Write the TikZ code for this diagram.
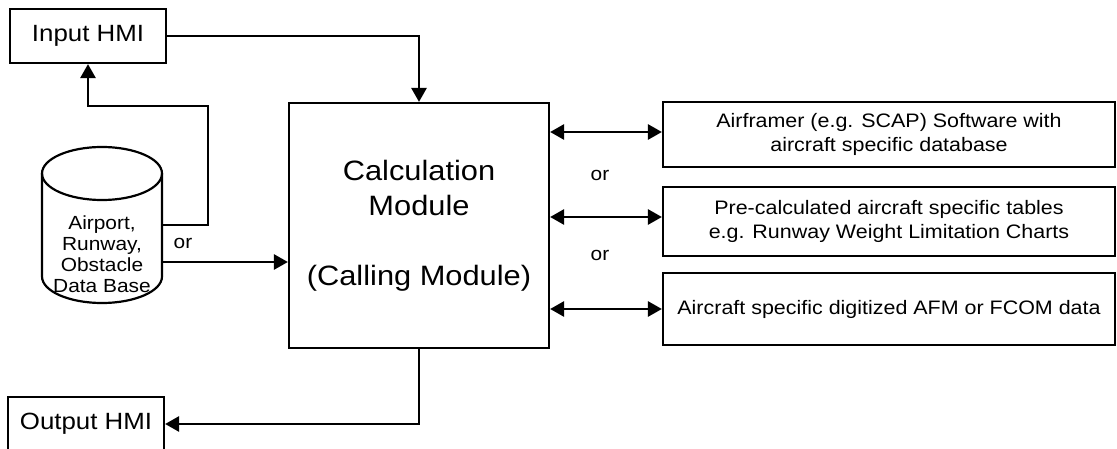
\documentclass[tikz,border=0pt]{standalone}
\usepackage{fontspec}
\setmainfont[FakeStretch=1.1]{Liberation Sans}
\usetikzlibrary{arrows.meta,calc}
\begin{document}
\begin{tikzpicture}[x=1pt,y=-1pt,
  box/.style={draw, line width=2.2pt, inner sep=0pt, align=center},
  conn/.style={line width=2.8pt, -{Triangle[length=14pt,width=15pt]}},
  dconn/.style={line width=2.8pt, {Triangle[length=14pt,width=15pt]}-{Triangle[length=14pt,width=15pt]}},
  hmi/.style={box, minimum width=156pt, minimum height=54pt, font=\fontsize{23.5}{28}\selectfont},
  src/.style={box, minimum width=452pt, font=\fontsize{19.5}{23.5}\selectfont},
  lbl/.style={font=\fontsize{19}{21}\selectfont, inner sep=0pt}]
\useasboundingbox (0,0) rectangle (1117,449);
\node[hmi] (inhmi) at (88,36) {Input HMI};
\node[hmi] (outhmi) at (86,424) {Output HMI};
\node[box, minimum width=260pt, minimum height=245pt, font=\fontsize{28}{35}\selectfont] (calc) at (419,225.5) {Calculation\\Module\\[35pt](Calling Module)};
\node[src, minimum height=65pt] (b1) at (889,134.5) {Airframer (e.g. SCAP) Software with\\aircraft specific database};
\node[src, minimum height=69pt] (b2) at (889,221.5) {Pre-calculated aircraft specific tables\\e.g. Runway Weight Limitation Charts};
\node[src, minimum height=72pt] (b3) at (889,309) {Aircraft specific digitized AFM or FCOM data};
% database cylinder
\node[minimum width=120pt, minimum height=156pt, inner sep=0pt] (db) at (102,225) {};
\draw[line width=2.2pt] (102,173.5) ellipse [x radius=60pt, y radius=26.5pt];
\draw[line width=2.2pt] (42,173.5) -- (42,276.5)
  .. controls (42,291.1) and (68.9,303) .. (102,303)
  .. controls (135.1,303) and (162,291.1) .. (162,276.5) -- (162,173.5);
\node[lbl, align=center] (dbtext) at (102,254) {Airport,\\Runway,\\Obstacle\\Data Base};
% connectors
\coordinate (k1) at (208,106);
\draw[conn] (db.east) -| (k1) -| (inhmi.south);
\coordinate (dbo) at ([yshift=-37pt]db.east);
\draw[conn] (dbo) -- (dbo -| calc.west);
\draw[conn] (inhmi.east) -| (calc.north);
\draw[conn] (calc.south) |- (outhmi.east);
\draw[dconn] ([yshift=2.5pt]b1.west -| calc.east) -- ([yshift=2.5pt]b1.west);
\draw[dconn] ([yshift=4.5pt]b2.west -| calc.east) -- ([yshift=4.5pt]b2.west);
\draw[dconn] (b3.west -| calc.east) -- (b3.west);
\node[lbl] (or1) at (183,243) {or};
\node[lbl] (or2) at (600,175) {or};
\node[lbl] (or3) at (600,255) {or};
\end{tikzpicture}
\end{document}
